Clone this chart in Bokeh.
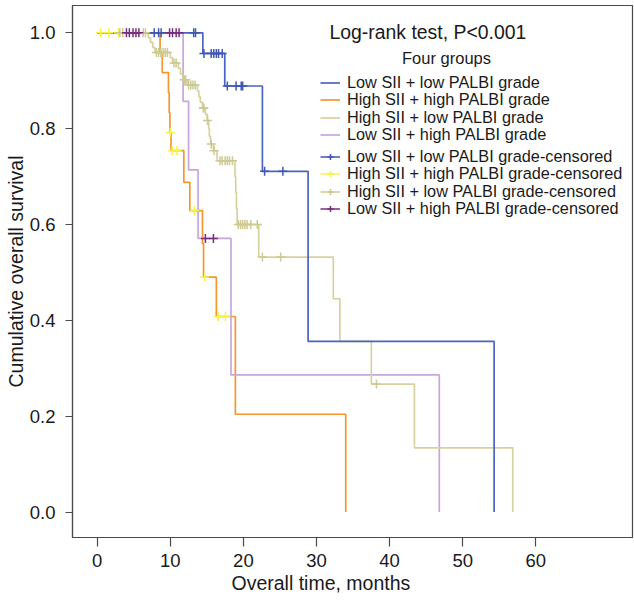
from bokeh.plotting import figure
from bokeh.models import (Range1d, FixedTicker, PrintfTickFormatter, Legend, LegendItem,
                          Label, Title)
from bokeh.embed import file_html
from bokeh.resources import INLINE

FONT = "Liberation Sans"

# ---------------- data ----------------
group_names = ["Low SII + low PALBI grade", "High SII + high PALBI grade",
               "High SII + low PALBI grade", "Low SII + high PALBI grade"]
censored_names = [g + "-censored" for g in group_names]
x_ticks = [0, 10, 20, 30, 40, 50, 60]
y_ticks = [0.0, 0.2, 0.4, 0.6, 0.8, 1.0]

# Low SII + low PALBI grade
blue_time = [0, 14.45, 17.45, 22.6, 28.85, 54.3]
blue_surv = [1.0, 0.957, 0.889, 0.711, 0.356, 0.0]
blue_cens_time = [7.8, 8.4, 8.75, 13.2, 13.45, 14.6, 15.6, 15.95, 16.3, 16.6, 17.1,
                  17.8, 19.0, 19.7, 19.9, 22.9, 25.4]
blue_cens_surv = [1.0, 1.0, 1.0, 1.0, 1.0, 0.957, 0.957, 0.957, 0.957, 0.957, 0.957,
                  0.889, 0.889, 0.889, 0.889, 0.711, 0.711]

# High SII + high PALBI grade
orange_time = [0, 8.6, 8.9, 9.75, 9.85, 9.95, 10.1, 11.85, 12.67, 14.4, 14.55, 16.3, 18.9, 34.0]
orange_surv = [1.0, 0.958, 0.917, 0.875, 0.833, 0.792, 0.754, 0.688, 0.629, 0.56, 0.49, 0.408, 0.204, 0.0]
yellow_cens_time = [0.45, 1.6, 2.9, 10.0, 10.25, 10.9, 13.3, 14.7, 16.55, 17.55]
yellow_cens_surv = [1.0, 1.0, 1.0, 0.792, 0.754, 0.754, 0.629, 0.49, 0.408, 0.408]

# High SII + low PALBI grade
khaki_time = [0, 7.0, 7.3, 7.6, 7.9, 10.0, 10.3, 11.1, 11.4, 11.7, 12.3, 13.7, 13.9, 14.1,
              14.4, 14.8, 15.05, 15.25, 15.35, 15.5, 15.9, 16.4, 18.85, 18.95, 19.05, 19.15,
              22.1, 32.3, 33.2, 37.5, 43.4, 56.85]
khaki_surv = [1.0, 0.990, 0.980, 0.969, 0.959, 0.948, 0.937, 0.926, 0.914, 0.902, 0.891, 0.879,
              0.867, 0.855, 0.843, 0.830, 0.817, 0.800, 0.784, 0.768, 0.754, 0.733, 0.700, 0.667,
              0.633, 0.600, 0.532, 0.445, 0.356, 0.267, 0.134, 0.0]
khaki_cens_time = [3.1, 3.5, 6.3, 6.6, 8.1, 8.4, 8.7, 9.0, 9.3, 9.6, 10.5, 10.8, 11.9, 12.1,
                   12.5, 12.8, 13.1, 13.4, 14.5, 14.6, 15.1, 15.6, 16.0, 16.8, 17.1, 17.5,
                   17.8, 18.1, 18.5, 19.3, 19.6, 19.9, 20.2, 20.5, 21.0, 21.9, 22.6, 25.1, 38.2]
khaki_cens_surv = [1.0, 1.0, 1.0, 1.0, 0.959, 0.959, 0.959, 0.959, 0.959, 0.959, 0.937, 0.937,
                   0.902, 0.902, 0.891, 0.891, 0.891, 0.891, 0.843, 0.843, 0.817, 0.768, 0.754,
                   0.733, 0.733, 0.733, 0.733, 0.733, 0.733, 0.600, 0.600, 0.600, 0.600, 0.600,
                   0.600, 0.600, 0.532, 0.532, 0.267]

# Low SII + high PALBI grade
purple_time = [0, 11.75, 12.5, 13.8, 18.3, 46.8]
purple_surv = [1.0, 0.857, 0.714, 0.571, 0.286, 0.0]
purple_cens_time = [4.0, 4.4, 4.9, 5.3, 5.7, 9.9, 10.3, 10.8, 11.2, 14.8, 15.9]
purple_cens_surv = [1.0, 1.0, 1.0, 1.0, 1.0, 1.0, 1.0, 1.0, 1.0, 0.571, 0.571]

line_colors = ["#4A64C2", "#F5962E", "#D6D2A0", "#C7A6DC"]
cens_colors = ["#3F56B5", "#F6F24A", "#CDC993", "#7A2C7C"]

# ---------------- figure ----------------
p = figure(width=634, height=602, output_backend="svg", toolbar_location=None,
           x_range=Range1d(-3.38, 73.23), y_range=Range1d(-0.0532, 1.057),
           min_border_left=72, min_border_right=2, min_border_top=5, min_border_bottom=65)
p.xgrid.grid_line_color = None
p.ygrid.grid_line_color = None
p.outline_line_color = "#4a4a4a"
p.outline_line_width = 1.2
p.background_fill_color = "white"
p.border_fill_color = "white"

for ax in (p.xaxis[0], p.yaxis[0]):
    ax.axis_line_color = "#4a4a4a"
    ax.axis_line_width = 1.2
    ax.major_tick_line_color = "#4a4a4a"
    ax.major_tick_line_width = 1.2
    ax.major_tick_in = 0
    ax.minor_tick_line_color = None
    ax.major_label_text_font = FONT
    ax.major_label_text_color = "#1a1a1a"
    ax.major_label_text_font_size = "18.5px"

p.xaxis.ticker = FixedTicker(ticks=x_ticks)
p.yaxis.ticker = FixedTicker(ticks=y_ticks)
p.yaxis.formatter = PrintfTickFormatter(format="%.1f")
p.xaxis.major_tick_out = 9
p.yaxis.major_tick_out = 7
p.xaxis.major_label_standoff = 7
p.yaxis.major_label_standoff = 10

# axis titles, offset so they sit where the reference puts them
p.add_layout(Title(text="Overall time, months", align="left", offset=159, standoff=0,
                   text_font=FONT, text_font_size="19.5px", text_font_style="normal",
                   text_color="#1a1a1a"), "below")
p.add_layout(Title(text="Cumulative overall survival", align="center", standoff=0,
                   text_font=FONT, text_font_size="19.5px", text_font_style="normal",
                   text_color="#1a1a1a"), "left")

# ---------------- curves ----------------
lw = 1.7
r_orange = p.step(orange_time, orange_surv, mode="after", line_color=line_colors[1], line_width=lw)
r_purple = p.step(purple_time, purple_surv, mode="after", line_color=line_colors[3], line_width=lw)
r_khaki = p.step(khaki_time, khaki_surv, mode="after", line_color=line_colors[2], line_width=lw)
r_blue = p.step(blue_time, blue_surv, mode="after", line_color=line_colors[0], line_width=lw)

ms = 9
c_yellow = p.scatter(yellow_cens_time, yellow_cens_surv, marker="cross", size=ms,
                     line_color=cens_colors[1], line_width=1.5)
c_khaki = p.scatter(khaki_cens_time, khaki_cens_surv, marker="cross", size=ms,
                    line_color=cens_colors[2], line_width=1.5)
c_purple = p.scatter(purple_cens_time, purple_cens_surv, marker="cross", size=ms,
                     line_color=cens_colors[3], line_width=1.5)
c_blue = p.scatter(blue_cens_time, blue_cens_surv, marker="cross", size=ms,
                   line_color=cens_colors[0], line_width=1.5)

# legend-only line renderers (a single NaN point: nothing drawn in the plot)
d_lines = [p.line([float("nan")], [float("nan")], line_color=c, line_width=1.5) for c in cens_colors]

# ---------------- legend (one entry per Legend, for the reference's tight row pitch) ----------------
common = dict(glyph_width=20, glyph_height=15, label_height=15, spacing=0,
              label_standoff=7, padding=0, margin=0, border_line_color=None,
              background_fill_alpha=0, label_text_font=FONT, label_text_font_size="16.3px",
              label_text_color="#1a1a1a")

entries = [(group_names[0], [r_blue]),
           (group_names[1], [r_orange]),
           (group_names[2], [r_khaki]),
           (group_names[3], [r_purple]),
           (censored_names[0], [d_lines[0], c_blue]),
           (censored_names[1], [d_lines[1], c_yellow]),
           (censored_names[2], [d_lines[2], c_khaki]),
           (censored_names[3], [d_lines[3], c_purple])]
row_offsets = [445, 428, 410, 393, 371, 354, 336, 319]   # screen px from frame bottom
for (lab, rens), oy in zip(entries, row_offsets):
    p.add_layout(Legend(items=[LegendItem(label=lab, renderers=rens)],
                        location=(248, oy), **common))

p.add_layout(Label(x=257, y=506, x_units="screen", y_units="screen",
                   text="Log-rank test, P<0.001", text_font=FONT, text_font_size="19.4px",
                   text_baseline="middle", text_align="left", text_color="#1a1a1a"))
p.add_layout(Label(x=374, y=480, x_units="screen", y_units="screen",
                   text="Four groups", text_font=FONT, text_font_size="16.5px",
                   text_baseline="middle", text_align="center", text_color="#1a1a1a"))

open("out.html", "w").write(file_html(p, INLINE))
